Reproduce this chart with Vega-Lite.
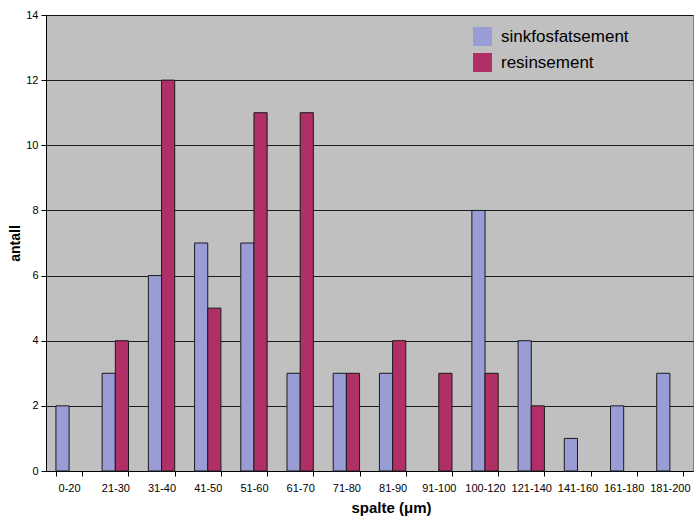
{
  "$schema": "https://vega.github.io/schema/vega-lite/v6.json",
  "width": 647,
  "height": 456,
  "autosize": {"type": "none"},
  "padding": {"left": 46, "top": 15, "right": 7, "bottom": 50},
  "background": "white",
  "config": {
    "font": "Liberation Sans",
    "view": {"fill": "#c0c0c0", "stroke": "#808080", "strokeWidth": 1}
  },
  "data": {
    "values": [
      {"spalte": "0-20", "serie": "sinkfosfatsement", "antall": 2},
      {"spalte": "0-20", "serie": "resinsement", "antall": 0},
      {"spalte": "21-30", "serie": "sinkfosfatsement", "antall": 3},
      {"spalte": "21-30", "serie": "resinsement", "antall": 4},
      {"spalte": "31-40", "serie": "sinkfosfatsement", "antall": 6},
      {"spalte": "31-40", "serie": "resinsement", "antall": 12},
      {"spalte": "41-50", "serie": "sinkfosfatsement", "antall": 7},
      {"spalte": "41-50", "serie": "resinsement", "antall": 5},
      {"spalte": "51-60", "serie": "sinkfosfatsement", "antall": 7},
      {"spalte": "51-60", "serie": "resinsement", "antall": 11},
      {"spalte": "61-70", "serie": "sinkfosfatsement", "antall": 3},
      {"spalte": "61-70", "serie": "resinsement", "antall": 11},
      {"spalte": "71-80", "serie": "sinkfosfatsement", "antall": 3},
      {"spalte": "71-80", "serie": "resinsement", "antall": 3},
      {"spalte": "81-90", "serie": "sinkfosfatsement", "antall": 3},
      {"spalte": "81-90", "serie": "resinsement", "antall": 4},
      {"spalte": "91-100", "serie": "sinkfosfatsement", "antall": 0},
      {"spalte": "91-100", "serie": "resinsement", "antall": 3},
      {"spalte": "100-120", "serie": "sinkfosfatsement", "antall": 8},
      {"spalte": "100-120", "serie": "resinsement", "antall": 3},
      {"spalte": "121-140", "serie": "sinkfosfatsement", "antall": 4},
      {"spalte": "121-140", "serie": "resinsement", "antall": 2},
      {"spalte": "141-160", "serie": "sinkfosfatsement", "antall": 1},
      {"spalte": "141-160", "serie": "resinsement", "antall": 0},
      {"spalte": "161-180", "serie": "sinkfosfatsement", "antall": 2},
      {"spalte": "161-180", "serie": "resinsement", "antall": 0},
      {"spalte": "181-200", "serie": "sinkfosfatsement", "antall": 3},
      {"spalte": "181-200", "serie": "resinsement", "antall": 0}
    ]
  },
  "mark": {"type": "bar", "stroke": "#1a1a1a", "strokeWidth": 1},
  "encoding": {
    "x": {
      "field": "spalte",
      "type": "nominal",
      "sort": null,
      "scale": {"paddingInner": 0.43, "paddingOuter": 0.215},
      "axis": {
        "title": "spalte (μm)",
        "titleFont": "Liberation Sans",
        "titleFontSize": 15,
        "titleFontWeight": "bold",
        "titleColor": "#000",
        "titleX": 345,
        "titleY": 36,
        "titleAlign": "center",
        "titleBaseline": "middle",
        "labelAngle": 0,
        "labelFontSize": 11,
        "labelColor": "#000",
        "labelPadding": 6,
        "tickBand": "extent",
        "tickSize": 5,
        "tickColor": "#000",
        "domainColor": "#000",
        "grid": false
      }
    },
    "xOffset": {"field": "serie", "type": "nominal", "sort": ["sinkfosfatsement", "resinsement"]},
    "y": {
      "field": "antall",
      "type": "quantitative",
      "scale": {"domain": [0, 14], "nice": false},
      "axis": {
        "title": "antall",
        "titleFontSize": 14,
        "titleFontWeight": "bold",
        "titleColor": "#000",
        "titleX": -31,
        "titleY": 228,
        "titleAngle": 270,
        "titleAlign": "center",
        "titleBaseline": "middle",
        "values": [0, 2, 4, 6, 8, 10, 12, 14],
        "labelFontSize": 11,
        "labelColor": "#000",
        "labelPadding": 3,
        "tickSize": 5,
        "tickColor": "#000",
        "domainColor": "#000",
        "grid": true,
        "gridColor": "#000",
        "gridWidth": 1,
        "gridOpacity": 0.85
      }
    },
    "strokeOpacity": {
      "condition": {"test": "datum.antall === 0", "value": 0},
      "value": 1
    },
    "color": {
      "field": "serie",
      "type": "nominal",
      "sort": ["sinkfosfatsement", "resinsement"],
      "scale": {"domain": ["sinkfosfatsement", "resinsement"], "range": ["#9a9cd6", "#b02f67"]},
      "legend": {
        "title": null,
        "orient": "none",
        "legendX": 427,
        "legendY": 12,
        "symbolType": "square",
        "symbolSize": 361,
        "symbolStrokeWidth": 0,
        "symbolOpacity": 1,
        "labelFontSize": 17,
        "labelColor": "#000",
        "labelOffset": 9,
        "rowPadding": 7
      }
    }
  }
}
